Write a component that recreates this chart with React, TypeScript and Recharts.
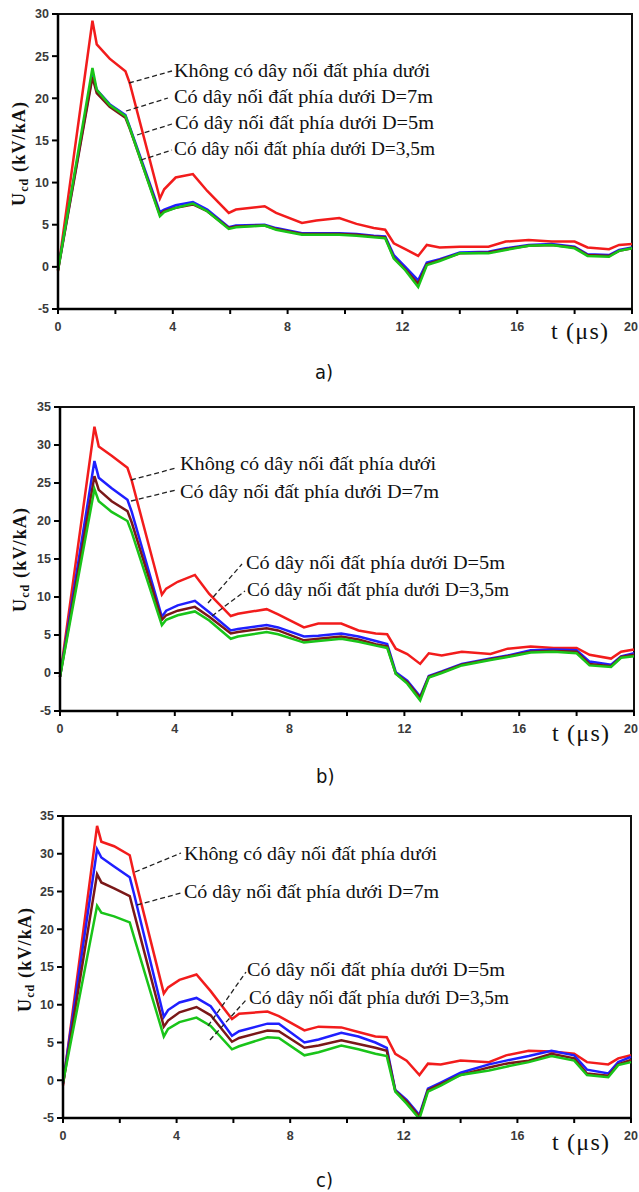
import { LineChart, Line, XAxis, YAxis, ReferenceArea } from "recharts";

// time samples (µs), shared by all three panels
const T = [0, 1.2, 1.35, 1.8, 2.35, 2.5, 3.55, 3.7, 4.1, 4.7, 5.2, 5.95, 6.2, 7.2, 7.6, 8.5, 9.0, 9.8, 10.4, 11.0, 11.4, 11.7, 12.1, 12.55, 12.85, 13.3, 14.0, 15.0, 15.6, 16.4, 17.2, 18.0, 18.45, 19.2, 19.55, 20];

// panel a)
const redA = [-0.5, 29.2, 26.4, 24.7, 23.2, 21.8, 8.1, 9.2, 10.6, 11.0, 9.0, 6.4, 6.8, 7.2, 6.4, 5.2, 5.5, 5.8, 5.1, 4.6, 4.4, 2.8, 2.1, 1.3, 2.6, 2.3, 2.4, 2.4, 3.0, 3.2, 3.0, 3.0, 2.3, 2.1, 2.6, 2.7];
const blueA = [-0.3, 22.8, 21.0, 19.3, 18.0, 16.6, 6.5, 6.8, 7.3, 7.7, 6.8, 4.7, 4.9, 5.0, 4.6, 4.0, 4.0, 4.0, 3.9, 3.7, 3.6, 1.4, 0.0, -1.6, 0.5, 0.9, 1.7, 1.8, 2.2, 2.6, 2.7, 2.4, 1.5, 1.4, 2.0, 2.3];
const brownA = [-0.4, 22.5, 20.6, 19.0, 17.7, 16.4, 6.2, 6.6, 7.0, 7.4, 6.6, 4.6, 4.8, 4.9, 4.5, 3.9, 3.9, 3.9, 3.8, 3.6, 3.5, 1.1, -0.3, -2.0, 0.3, 0.8, 1.6, 1.7, 2.1, 2.5, 2.6, 2.3, 1.4, 1.3, 1.9, 2.2];
const greenA = [-0.4, 23.6, 21.0, 19.2, 17.9, 16.5, 6.0, 6.5, 7.0, 7.5, 6.6, 4.5, 4.7, 4.9, 4.4, 3.8, 3.8, 3.8, 3.7, 3.5, 3.4, 1.0, -0.4, -2.4, 0.2, 0.7, 1.6, 1.6, 2.0, 2.5, 2.6, 2.2, 1.3, 1.2, 1.9, 2.2];

// panel b)
const redB = [-0.5, 32.4, 29.8, 28.6, 27.0, 25.3, 10.3, 11.1, 12.0, 12.9, 10.4, 7.5, 7.8, 8.4, 7.7, 6.0, 6.5, 6.5, 5.6, 5.2, 5.1, 3.2, 2.5, 1.2, 2.6, 2.3, 2.8, 2.5, 3.2, 3.5, 3.3, 3.3, 2.4, 1.9, 2.8, 3.1];
const blueB = [-0.5, 27.9, 25.7, 24.3, 22.8, 21.2, 7.4, 8.2, 8.9, 9.5, 8.0, 5.6, 5.8, 6.3, 6.0, 4.8, 4.9, 5.2, 4.8, 4.2, 3.8, 0.1, -1.0, -3.1, -0.4, 0.2, 1.2, 1.9, 2.3, 3.0, 3.1, 3.0, 1.5, 1.1, 2.2, 2.6];
const brownB = [-0.5, 25.9, 24.1, 22.6, 21.3, 19.8, 7.0, 7.6, 8.2, 8.7, 7.4, 5.2, 5.4, 5.9, 5.6, 4.3, 4.5, 4.8, 4.4, 3.8, 3.5, -0.1, -1.2, -3.3, -0.5, 0.1, 1.1, 1.8, 2.2, 2.8, 2.9, 2.8, 1.2, 0.9, 2.1, 2.4];
const greenB = [-0.5, 24.2, 22.6, 21.2, 20.0, 18.5, 6.3, 7.0, 7.6, 8.1, 6.9, 4.5, 4.8, 5.4, 5.1, 4.0, 4.2, 4.5, 4.1, 3.6, 3.3, -0.1, -1.4, -3.6, -0.6, 0.0, 1.0, 1.7, 2.1, 2.7, 2.8, 2.6, 1.0, 0.8, 2.0, 2.2];

// panel c)
const redC = [-0.7, 33.7, 31.6, 31.0, 29.8, 27.3, 11.5, 12.3, 13.3, 14.0, 11.8, 8.1, 8.8, 9.1, 8.5, 6.6, 7.1, 7.0, 6.4, 5.8, 5.7, 3.5, 2.6, 0.7, 2.2, 2.1, 2.6, 2.4, 3.3, 3.9, 3.8, 3.5, 2.4, 2.1, 2.9, 3.3];
const blueC = [-0.4, 30.6, 29.5, 28.3, 26.9, 24.7, 8.4, 9.3, 10.3, 10.9, 9.8, 5.9, 6.5, 7.5, 7.5, 5.0, 5.4, 6.3, 5.8, 5.0, 4.3, -1.3, -2.6, -4.6, -1.1, -0.3, 1.0, 2.1, 2.6, 3.2, 3.9, 3.3, 1.4, 0.9, 2.4, 3.1];
const brownC = [-0.5, 27.3, 26.2, 25.4, 24.4, 22.2, 7.1, 7.9, 9.0, 9.7, 8.6, 5.1, 5.6, 6.6, 6.5, 4.3, 4.6, 5.3, 4.8, 4.3, 3.9, -1.4, -2.8, -4.8, -1.3, -0.5, 0.7, 1.7, 2.2, 2.6, 3.5, 2.9, 0.9, 0.6, 2.1, 2.7];
const greenC = [-0.3, 23.1, 22.2, 21.7, 20.9, 19.0, 5.8, 6.8, 7.7, 8.3, 7.2, 4.1, 4.5, 5.7, 5.6, 3.3, 3.7, 4.6, 4.1, 3.5, 3.2, -1.5, -3.1, -5.1, -1.5, -0.7, 0.7, 1.3, 1.8, 2.4, 3.2, 2.6, 0.7, 0.4, 2.0, 2.4];

const xTicks = [0, 2, 4, 6, 8, 10, 12, 14, 16, 18, 20];
const yTicksA = [-5, 0, 5, 10, 15, 20, 25, 30];
const yTicksBC = [-5, 0, 5, 10, 15, 20, 25, 30, 35];

const seriesNames = [
  "Không có dây nối đất phía dưới",
  "Có dây nối đất phía dưới D=7m",
  "Có dây nối đất phía dưới D=5m",
  "Có dây nối đất phía dưới D=3,5m",
];
const captions = ["a)", "b)", "c)"];

const COLORS = { red: "#f21c1c", blue: "#1f1fff", brown: "#7a1818", green: "#19c419" };

const makeRows = (r: number[], b: number[], br: number[], g: number[]) =>
  T.map((t, i) => ({ t, red: r[i], blue: b[i], brown: br[i], green: g[i] }));

const tickFont = "'Liberation Sans', Arial, sans-serif";
const tickStyle = { fontSize: 12.5, fontWeight: "bold", fill: "#3a3a3a", fontFamily: tickFont };

// x tick: only every 4 µs is labelled; keep the last one inside the page
const XTick = (props: any) => {
  const { x, y, payload } = props;
  const v = payload.value;
  if (v % 4 !== 0) return null;
  const cx = Math.min(x, 631);
  return (
    <text x={cx} y={y} dy="0.71em" textAnchor="middle" {...tickStyle}>
      {v}
    </text>
  );
};

function Panel({ top, height, plot, yMax, yTicks, rows }: any) {
  const [pl, pr, pt, pb] = plot; // plot box in page px
  return (
    <div style={{ position: "absolute", left: 0, top }}>
      <LineChart
        width={639}
        height={height}
        data={rows}
        margin={{ top: pt - top, right: 639 - pr, left: 0, bottom: 0 }}
      >
        <XAxis
          dataKey="t"
          type="number"
          domain={[0, 20]}
          ticks={xTicks}
          interval={0}
          axisLine={{ stroke: "#000", strokeWidth: 2.5 }}
          tickLine={{ stroke: "#000", strokeWidth: 2 }}
          tickSize={5}
          tickMargin={8}
          tick={<XTick />}
          height={height - (pb - top)}
        />
        <YAxis
          type="number"
          domain={[-5, yMax]}
          ticks={yTicks}
          interval={0}
          allowDataOverflow
          axisLine={{ stroke: "#000", strokeWidth: 2.5 }}
          tickLine={{ stroke: "#000", strokeWidth: 2 }}
          tickSize={6}
          tickMargin={3}
          tick={tickStyle}
          width={pl}
        />
        <ReferenceArea x1={0} x2={20} y1={-5} y2={yMax} fill="none" stroke="#111" strokeWidth={2} ifOverflow="visible" />
        <Line dataKey="red" type="linear" stroke={COLORS.red} strokeWidth={2.5} dot={false} isAnimationActive={false} />
        <Line dataKey="blue" type="linear" stroke={COLORS.blue} strokeWidth={2.5} dot={false} isAnimationActive={false} />
        <Line dataKey="brown" type="linear" stroke={COLORS.brown} strokeWidth={2.5} dot={false} isAnimationActive={false} />
        <Line dataKey="green" type="linear" stroke={COLORS.green} strokeWidth={2.5} dot={false} isAnimationActive={false} />
      </LineChart>
    </div>
  );
}

const serif = "'Liberation Serif', 'Times New Roman', serif";
const narrow = "'Liberation Sans Narrow', 'DejaVu Sans Condensed', sans-serif";

function YLabel({ x, y }: { x: number; y: number }) {
  return (
    <text
      x={x}
      y={y}
      transform={`rotate(-90 ${x} ${y})`}
      textAnchor="middle"
      fontFamily={serif}
      fontWeight="bold"
      fontSize={18}
      fill="#111"
      textLength={104}
    >
      <tspan>U</tspan>
      <tspan fontSize={12} dy={3}>cd</tspan>
      <tspan dy={-3}> (kV/kA)</tspan>
    </text>
  );
}

function Note({ x, y, w, text, line }: { x: number; y: number; w: number; text: string; line: number[] }) {
  return (
    <g>
      <line x1={line[0]} y1={line[1]} x2={line[2]} y2={line[3]} stroke="#222" strokeWidth={1.3} strokeDasharray="5 3" />
      <text x={x} y={y} fontFamily={serif} fontSize={19} fill="#111" textLength={w} lengthAdjust="spacingAndGlyphs" dominantBaseline="central">
        {text}
      </text>
    </g>
  );
}

export default function App() {
  const rowsA = makeRows(redA, blueA, brownA, greenA);
  const rowsB = makeRows(redB, blueB, brownB, greenB);
  const rowsC = makeRows(redC, blueC, brownC, greenC);

  return (
    <div style={{ position: "absolute", left: 0, top: 0, width: 639, height: 1192, background: "#fff", overflow: "hidden" }}>
      <Panel top={0} height={350} plot={[58, 632, 14, 309]} yMax={30} yTicks={yTicksA} rows={rowsA} />
      <Panel top={390} height={360} plot={[60, 634, 407, 711]} yMax={35} yTicks={yTicksBC} rows={rowsB} />
      <Panel top={800} height={360} plot={[63, 631, 816, 1118]} yMax={35} yTicks={yTicksBC} rows={rowsC} />

      <svg width={639} height={1192} style={{ position: "absolute", left: 0, top: 0, pointerEvents: "none" }}>
        {/* panel a notes */}
        <Note x={174} y={70} w={256} text={seriesNames[0]} line={[129, 83, 172, 71]} />
        <Note x={174} y={96} w={259} text={seriesNames[1]} line={[126, 111, 168, 98]} />
        <Note x={175} y={122} w={259} text={seriesNames[2]} line={[137, 135, 172, 124]} />
        <Note x={174} y={148} w={261} text={seriesNames[3]} line={[141, 160, 172, 150]} />

        {/* panel b notes */}
        <Note x={180} y={463} w={256} text={seriesNames[0]} line={[131, 480, 176, 468]} />
        <Note x={180} y={491} w={259} text={seriesNames[1]} line={[131, 501, 176, 490]} />
        <Note x={246} y={562} w={259} text={seriesNames[2]} line={[208, 603, 242, 564]} />
        <Note x={247} y={589} w={262} text={seriesNames[3]} line={[212, 616, 245, 591]} />

        {/* panel c notes */}
        <Note x={184} y={853} w={253} text={seriesNames[0]} line={[135, 872, 181, 853]} />
        <Note x={184} y={891} w={255} text={seriesNames[1]} line={[137, 905, 181, 893]} />
        <Note x={247} y={969} w={258} text={seriesNames[2]} line={[208, 1026, 246, 972]} />
        <Note x={249} y={997} w={260} text={seriesNames[3]} line={[210, 1040, 246, 1000]} />

        <YLabel x={25} y={154} />
        <YLabel x={26} y={560} />
        <YLabel x={31} y={960} />

        <text x={551} y={339} fontFamily={serif} fontSize={24} fill="#111" textLength={57}>t (μs)</text>
        <text x={552} y={741} fontFamily={serif} fontSize={24} fill="#111" textLength={57}>t (μs)</text>
        <text x={552} y={1150} fontFamily={serif} fontSize={24} fill="#111" textLength={57}>t (μs)</text>

        <text x={315} y={379} fontFamily={narrow} fontSize={20} fill="#111">{captions[0]}</text>
        <text x={316} y={783} fontFamily={narrow} fontSize={20} fill="#111">{captions[1]}</text>
        <text x={316} y={1187} fontFamily={narrow} fontSize={20} fill="#111">{captions[2]}</text>
      </svg>
    </div>
  );
}
